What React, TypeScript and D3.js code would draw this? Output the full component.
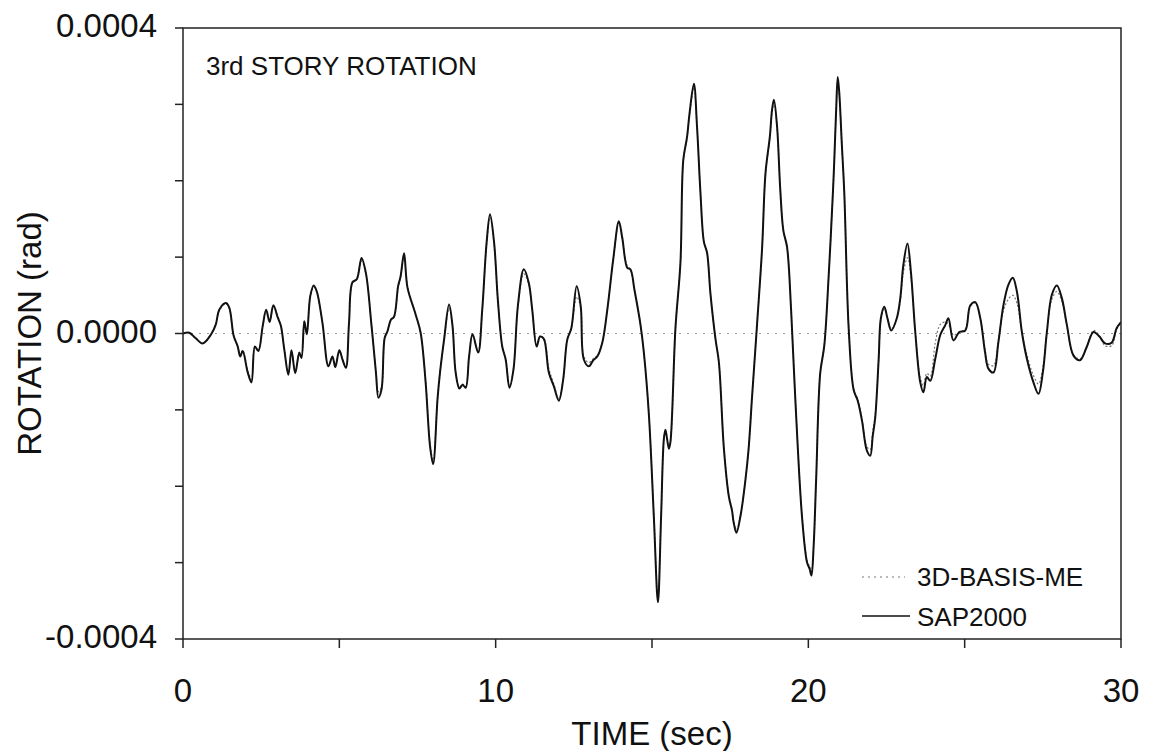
import React from 'react';
import * as d3 from 'd3';

// time axis (s)
const timeSec = [
  0, 0.2, 0.4, 0.63, 0.9, 1.05, 1.16, 1.37, 1.48, 1.62, 1.75, 1.83, 1.91, 2.07, 2.19, 2.3, 2.41, 2.55, 2.66, 2.77, 2.89,
  3.03, 3.13, 3.24, 3.37, 3.47, 3.59, 3.72, 3.79, 3.88, 3.96, 4.07, 4.18, 4.28, 4.46, 4.65, 4.78, 4.87, 5.0, 5.1, 5.21,
  5.31, 5.42, 5.56, 5.71, 5.85, 6.03, 6.17, 6.25, 6.35, 6.45, 6.54, 6.65, 6.75, 6.88, 6.96, 7.07, 7.18, 7.44, 7.6, 7.76,
  7.9, 8.0, 8.14, 8.22, 8.35, 8.51, 8.62, 8.72, 8.84, 8.94, 9.04, 9.15, 9.26, 9.44, 9.57, 9.71, 9.82, 9.95, 10.07, 10.21,
  10.32, 10.44, 10.57, 10.71, 10.9, 11.06, 11.17, 11.31, 11.42, 11.54, 11.7, 11.86, 12.02, 12.16, 12.29, 12.42, 12.59,
  12.72, 12.82, 12.98, 13.12, 13.25, 13.41, 13.57, 13.76, 13.94, 14.05, 14.21, 14.31, 14.44, 14.63, 14.74, 14.9, 15.06,
  15.19, 15.29, 15.38, 15.43, 15.54, 15.59, 15.75, 15.91, 16.0, 16.12, 16.2, 16.34, 16.44, 16.55, 16.66, 16.76, 16.87,
  17.03, 17.14, 17.3, 17.46, 17.56, 17.61, 17.7, 17.83, 17.99, 18.09, 18.2, 18.36, 18.52, 18.63, 18.77, 18.84, 18.9,
  19.0, 19.1, 19.2, 19.32, 19.45, 19.58, 19.8, 19.96, 20.04, 20.1, 20.17, 20.25, 20.38, 20.51, 20.65, 20.79, 20.83,
  20.89, 20.94, 20.99, 21.07, 21.15, 21.29, 21.45, 21.58, 21.72, 21.87, 21.98, 22.06, 22.14, 22.25, 22.32, 22.43, 22.53,
  22.65, 22.83, 22.94, 23.04, 23.17, 23.28, 23.42, 23.58, 23.68, 23.79, 23.9, 24.06, 24.22, 24.38, 24.48, 24.64, 24.83,
  25.02, 25.18, 25.34, 25.5, 25.65, 25.76, 25.92, 26.08, 26.24, 26.4, 26.54, 26.67, 26.83, 26.99, 27.2, 27.36, 27.5,
  27.63, 27.79, 27.95, 28.11, 28.27, 28.48, 28.69, 28.9, 29.12, 29.31, 29.49, 29.7, 29.86, 30.0,
];

// SAP2000 rotation (x 1e-4 rad)
const sap2000 = [
  0, 0.01, -0.06, -0.13, -0.01, 0.12, 0.31, 0.4, 0.34, -0.03, -0.17, -0.3, -0.23, -0.51, -0.64, -0.17, -0.23, 0.1, 0.31, 0.15, 0.37,
  0.21, 0.1, -0.21, -0.54, -0.22, -0.52, -0.25, -0.32, 0.16, -0.01, 0.49, 0.63, 0.55, 0.14, -0.43, -0.3, -0.44, -0.22, -0.34, -0.45,
  0.14, 0.67, 0.71, 0.99, 0.79, 0.1, -0.51, -0.84, -0.73, -0.06, 0.03, 0.18, 0.22, 0.62, 0.75, 1.05, 0.6, 0.25, 0.01, -0.64,
  -1.47, -1.71, -0.86, -0.51, -0.08, 0.38, 0.1, -0.51, -0.72, -0.67, -0.71, -0.3, -0.01, -0.25, 0.31, 1.19, 1.56, 1.19, 0.44, -0.17,
  -0.34, -0.71, -0.47, 0.36, 0.84, 0.66, 0.31, -0.17, -0.04, -0.07, -0.51, -0.69, -0.88, -0.6, -0.08, 0.07, 0.62,
  0.36, -0.34, -0.43, -0.35, -0.3, -0.12, 0.31, 0.97, 1.47, 1.25, 0.86, 0.84, 0.57, 0.12, -0.25, -1.06, -2.41,
  -3.52, -2.41, -1.38, -1.26, -1.51, -1.42, 0.07, 0.93, 2.27, 2.57, 2.88, 3.27, 2.71, 1.84, 1.2, 1.06, 0.52,
  -0.07, -0.38, -1.51, -2.14, -2.32, -2.47, -2.61, -2.39, -1.91, -1.51, -0.83, 0.12, 1.11, 2.1, 2.58, 2.93, 3.06,
  2.71, 1.9, 1.35, 1.13, 0.3, -0.83, -2.41, -3.0, -3.08, -3.17, -2.78, -1.91, -0.52, -0.16, 0.75, 1.88, 2.27,
  2.93, 3.36, 3.15, 2.49, 1.84, 0.07, -0.74, -0.88, -1.15, -1.53, -1.6, -1.34, -1.1, -0.33, 0.2, 0.35, 0.2,
  0.04, 0.2, 0.46, 0.9, 1.18, 0.81, 0.02, -0.64, -0.77, -0.57, -0.62, -0.33, -0.02, 0.11, 0.2, -0.09, 0.02,
  0.04, 0.37, 0.41, 0.2, -0.24, -0.46, -0.51, -0.11, 0.37, 0.64, 0.73, 0.55, 0.02, -0.33, -0.64, -0.79, -0.51,
  0.02, 0.51, 0.63, 0.46, 0.11, -0.29, -0.35, -0.18, 0.02, -0.04, -0.13, -0.12, 0.07, 0.15,
];

// 3D-BASIS-ME rotation (x 1e-4 rad)
const basisMe = [
  0, 0.01, -0.06, -0.13, -0.01, 0.12, 0.3, 0.39, 0.33, -0.03, -0.17, -0.28, -0.22, -0.48, -0.6, -0.17, -0.22, 0.1, 0.3, 0.16, 0.36,
  0.23, 0.1, -0.2, -0.53, -0.22, -0.51, -0.25, -0.31, 0.16, -0.01, 0.48, 0.61, 0.54, 0.14, -0.42, -0.3, -0.43, -0.22, -0.33, -0.44,
  0.14, 0.66, 0.73, 0.95, 0.78, 0.1, -0.5, -0.76, -0.7, -0.06, 0.03, 0.18, 0.22, 0.6, 0.74, 1.0, 0.62, 0.26, 0.01, -0.62,
  -1.44, -1.66, -0.86, -0.51, -0.08, 0.33, 0.1, -0.5, -0.7, -0.66, -0.7, -0.3, -0.01, -0.24, 0.3, 1.16, 1.52, 1.18, 0.44, -0.17,
  -0.33, -0.69, -0.46, 0.34, 0.78, 0.64, 0.31, -0.15, -0.04, -0.06, -0.46, -0.66, -0.86, -0.6, -0.08, 0.06, 0.48,
  0.34, -0.3, -0.38, -0.33, -0.29, -0.12, 0.31, 0.96, 1.45, 1.24, 0.88, 0.84, 0.57, 0.12, -0.25, -1.05, -2.38,
  -3.45, -2.4, -1.38, -1.26, -1.49, -1.42, 0.07, 0.93, 2.25, 2.56, 2.86, 3.22, 2.7, 1.84, 1.2, 1.06, 0.52,
  -0.07, -0.38, -1.5, -2.13, -2.3, -2.45, -2.57, -2.38, -1.9, -1.51, -0.83, 0.12, 1.1, 2.08, 2.56, 2.9, 3.02,
  2.7, 1.9, 1.35, 1.13, 0.3, -0.82, -2.39, -2.97, -3.05, -3.12, -2.78, -1.91, -0.52, -0.16, 0.75, 1.87, 2.25,
  2.9, 3.3, 3.12, 2.48, 1.84, 0.08, -0.72, -0.86, -1.12, -1.48, -1.52, -1.28, -1.06, -0.35, 0.17, 0.32, 0.2,
  0.06, 0.2, 0.42, 0.8, 0.99, 0.75, 0.02, -0.58, -0.68, -0.52, -0.56, -0.12, 0.12, 0.15, 0.12, -0.02, 0.02,
  0.06, 0.35, 0.4, 0.2, -0.2, -0.4, -0.42, -0.08, 0.3, 0.45, 0.5, 0.4, 0.02, -0.28, -0.55, -0.66, -0.45,
  0.02, 0.45, 0.55, 0.42, 0.1, -0.28, -0.33, -0.18, 0.04, -0.03, -0.16, -0.16, 0.05, 0.14,
];

const xTicks = [0, 5, 10, 15, 20, 25, 30];
const xTickLabels = ['0', '', '10', '', '20', '', '30'];
const yTicks = [-4, -3, -2, -1, 0, 1, 2, 3, 4];
const yTickLabels = ['-0.0004', '', '', '', '0.0000', '', '', '', '0.0004'];

const FONT = '"Liberation Sans", Arial, Helvetica, sans-serif';

export default function App() {
  const W = 1149;
  const H = 751;
  const x = d3.scaleLinear().domain([0, 30]).range([183, 1121]);
  const y = d3.scaleLinear().domain([-4, 4]).range([639, 28]);

  const mk = (vals: number[]) =>
    d3
      .line<number>()
      .x((_, i) => x(timeSec[i]))
      .y((d) => y(d))
      .curve(d3.curveCatmullRom.alpha(0.5))(vals) || '';

  const [x0, x1] = x.range();
  const [yb, yt] = y.range();

  return (
    <svg
      width={W}
      height={H}
      viewBox={`0 0 ${W} ${H}`}
      style={{ position: 'absolute', left: 0, top: 0, background: '#fff', fontFamily: FONT }}
    >
      <rect x={0} y={0} width={W} height={H} fill="#fff" />
      <defs>
        <clipPath id="plotClip">
          <rect x={x0} y={yt} width={x1 - x0} height={yb - yt} />
        </clipPath>
      </defs>

      {/* zero reference line */}
      <line x1={x0} x2={x1} y1={y(0)} y2={y(0)} stroke="#999" strokeWidth={1} strokeDasharray="2,6" />

      <g clipPath="url(#plotClip)">
        <path d={mk(basisMe)} fill="none" stroke="#777" strokeWidth={1.2} strokeDasharray="2,2" />
        <path d={mk(sap2000)} fill="none" stroke="#111" strokeWidth={2} strokeLinejoin="round" />
      </g>

      {/* frame */}
      <rect x={x0} y={yt} width={x1 - x0} height={yb - yt} fill="none" stroke="#222" strokeWidth={1.5} />

      {/* y ticks */}
      {yTicks.map((v, i) => (
        <g key={'y' + v}>
          <line x1={x0 - 8} x2={x0} y1={y(v)} y2={y(v)} stroke="#222" strokeWidth={1.5} />
          {yTickLabels[i] && (
            <text x={157} y={y(v) + 9} textAnchor="end" fontSize={33} fill="#111">
              {yTickLabels[i]}
            </text>
          )}
        </g>
      ))}

      {/* x ticks */}
      {xTicks.map((t, i) => (
        <g key={'x' + t}>
          <line x1={x(t)} x2={x(t)} y1={yb} y2={yb + 9} stroke="#222" strokeWidth={1.5} />
          {xTickLabels[i] && (
            <text x={x(t)} y={702} textAnchor="middle" fontSize={33} fill="#111">
              {xTickLabels[i]}
            </text>
          )}
        </g>
      ))}

      {/* axis titles */}
      <text x={(x0 + x1) / 2} y={745} textAnchor="middle" fontSize={33} fill="#111">
        TIME (sec)
      </text>
      <text
        transform={`translate(41, ${(yt + yb) / 2}) rotate(-90)`}
        textAnchor="middle"
        fontSize={33}
        fill="#111"
      >
        ROTATION (rad)
      </text>

      {/* panel title */}
      <text x={206} y={75} fontSize={26} fill="#111">
        3rd STORY ROTATION
      </text>

      {/* legend */}
      <line x1={862} x2={905} y1={577} y2={577} stroke="#777" strokeWidth={1.2} strokeDasharray="2,4" />
      <text x={917} y={586} fontSize={26} fill="#111">
        3D-BASIS-ME
      </text>
      <line x1={862} x2={910} y1={616} y2={616} stroke="#111" strokeWidth={1.5} />
      <text x={917} y={626} fontSize={26} fill="#111">
        SAP2000
      </text>
    </svg>
  );
}
